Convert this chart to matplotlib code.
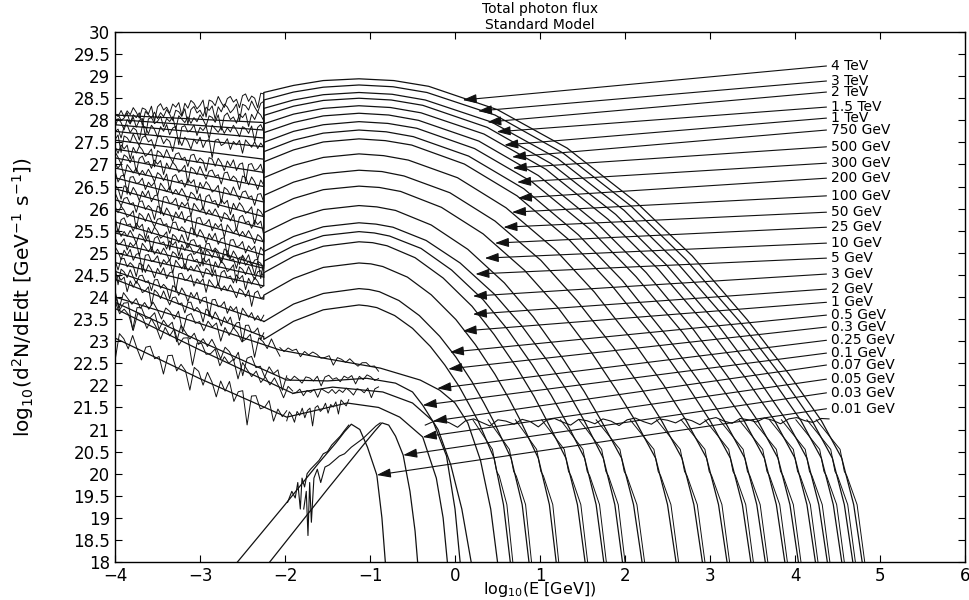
import numpy as np
import matplotlib
matplotlib.use("Agg")
import matplotlib.pyplot as plt
from matplotlib.ticker import FormatStrFormatter

# labels on the right, top to bottom, with the y of each leader line
labels = ["4 TeV", "3 TeV", "2 TeV", "1.5 TeV", "1 TeV", "750 GeV", "500 GeV",
          "300 GeV", "200 GeV", "100 GeV", "50 GeV", "25 GeV", "10 GeV", "5 GeV",
          "3 GeV", "2 GeV", "1 GeV", "0.5 GeV", "0.3 GeV", "0.25 GeV", "0.1 GeV",
          "0.07 GeV", "0.05 GeV", "0.03 GeV", "0.01 GeV"]
label_y = [29.23, 28.89, 28.64, 28.30, 28.05, 27.78, 27.40, 27.03, 26.69, 26.29,
           25.92, 25.58, 25.22, 24.88, 24.52, 24.18, 23.88, 23.59, 23.32, 23.02,
           22.73, 22.46, 22.14, 21.83, 21.47]
tip_x = [0.09, 0.27, 0.38, 0.49, 0.58, 0.67, 0.68, 0.73, 0.74, 0.67, 0.57, 0.47,
         0.35, 0.24, 0.21, 0.21, 0.09, -0.06, -0.08, -0.21, -0.38, -0.26, -0.38,
         -0.61, -0.92]
tip_y = [28.46, 28.21, 27.96, 27.74, 27.44, 27.17, 26.92, 26.60, 26.24, 25.92,
         25.58, 25.22, 24.88, 24.52, 24.02, 23.61, 23.23, 22.75, 22.37, 21.93,
         21.55, 21.19, 20.83, 20.42, 19.97]

# fitted arcs, 4 TeV ... 0.3 GeV
rise_x = [-4, -2.25, -2.25, -1.9, -1.55, -1.13]
arc_rise_y = [
    [28.12, 27.95, 28.63, 28.79, 28.90, 28.94],
    [28.02, 27.78, 28.46, 28.64, 28.75, 28.80],
    [27.90, 27.60, 28.27, 28.46, 28.58, 28.63],
    [27.75, 27.40, 28.11, 28.32, 28.45, 28.50],
    [27.55, 27.12, 27.92, 28.14, 28.27, 28.33],
    [27.35, 26.82, 27.72, 27.95, 28.10, 28.16],
    [27.15, 26.50, 27.50, 27.75, 27.90, 27.97],
    [26.92, 26.15, 27.29, 27.55, 27.71, 27.78],
    [26.70, 25.82, 27.06, 27.33, 27.51, 27.58],
    [26.45, 25.55, 26.70, 26.98, 27.16, 27.24],
    [26.20, 25.25, 26.30, 26.60, 26.79, 26.87],
    [25.95, 24.95, 25.91, 26.23, 26.43, 26.51],
    [25.70, 24.70, 25.45, 25.78, 25.98, 26.07],
    [25.45, 24.65, 25.03, 25.37, 25.59, 25.68],
    [25.22, 24.45, 24.81, 25.16, 25.39, 25.48],
    [25.00, 24.25, 24.55, 24.92, 25.15, 25.25],
    [24.78, 23.95, 24.04, 24.42, 24.67, 24.77],
    [24.58, 23.45, 23.44, 23.84, 24.08, 24.19],
    [24.40, 23.10, 23.04, 23.45, 23.71, 23.82],
]
arc_desc_x = [
    [-0.72, -0.31, 0.50, 1.32, 2.13, 2.79, 3.44, 3.93, 4.31],
    [-0.73, -0.33, 0.47, 1.27, 2.07, 2.71, 3.35, 3.83, 4.20],
    [-0.74, -0.35, 0.43, 1.21, 1.99, 2.61, 3.24, 3.71, 4.07],
    [-0.75, -0.38, 0.38, 1.13, 1.89, 2.49, 3.10, 3.55, 3.90],
    [-0.76, -0.40, 0.34, 1.07, 1.80, 2.39, 2.98, 3.42, 3.76],
    [-0.78, -0.43, 0.28, 0.98, 1.68, 2.25, 2.81, 3.23, 3.56],
    [-0.79, -0.45, 0.23, 0.91, 1.59, 2.13, 2.68, 3.08, 3.40],
    [-0.81, -0.49, 0.16, 0.81, 1.45, 1.97, 2.48, 2.87, 3.17],
    [-0.82, -0.51, 0.11, 0.73, 1.35, 1.84, 2.34, 2.71, 3.00],
    [-0.84, -0.55, 0.03, 0.60, 1.18, 1.64, 2.10, 2.45, 2.72],
    [-0.86, -0.60, -0.06, 0.47, 1.01, 1.43, 1.86, 2.18, 2.43],
    [-0.89, -0.64, -0.16, 0.33, 0.82, 1.21, 1.60, 1.89, 2.12],
    [-0.92, -0.70, -0.28, 0.15, 0.58, 0.92, 1.26, 1.52, 1.72],
    [-0.93, -0.73, -0.34, 0.06, 0.46, 0.78, 1.10, 1.34, 1.52],
    [-0.95, -0.77, -0.40, -0.04, 0.33, 0.62, 0.91, 1.13, 1.30],
    [-0.97, -0.80, -0.47, -0.14, 0.20, 0.46, 0.73, 0.93, 1.08],
    [-0.99, -0.85, -0.56, -0.28, 0.01, 0.24, 0.47, 0.64, 0.77],
    [-1.01, -0.89, -0.66, -0.42, -0.18, 0.01, 0.20, 0.34, 0.45],
    [-1.03, -0.92, -0.71, -0.50, -0.29, -0.12, 0.05, 0.17, 0.27],
]
arc_desc_y = [
    [28.90, 28.77, 28.24, 27.37, 26.15, 24.93, 23.48, 22.25, 21.20],
    [28.76, 28.63, 28.12, 27.26, 26.06, 24.86, 23.44, 22.23, 21.20],
    [28.59, 28.46, 27.96, 27.13, 25.96, 24.78, 23.39, 22.20, 21.20],
    [28.46, 28.34, 27.84, 27.02, 25.87, 24.72, 23.35, 22.19, 21.20],
    [28.29, 28.17, 27.69, 26.89, 25.76, 24.63, 23.30, 22.16, 21.20],
    [28.12, 28.00, 27.53, 26.75, 25.65, 24.55, 23.25, 22.14, 21.20],
    [27.93, 27.82, 27.36, 26.60, 25.53, 24.46, 23.19, 22.11, 21.20],
    [27.74, 27.63, 27.19, 26.45, 25.41, 24.37, 23.14, 22.09, 21.20],
    [27.54, 27.44, 27.01, 26.29, 25.28, 24.27, 23.08, 22.06, 21.20],
    [27.20, 27.10, 26.70, 26.02, 25.07, 24.11, 22.98, 22.02, 21.20],
    [26.84, 26.74, 26.36, 25.72, 24.83, 23.93, 22.87, 21.97, 21.20],
    [26.48, 26.39, 26.03, 25.43, 24.60, 23.76, 22.76, 21.92, 21.20],
    [26.04, 25.96, 25.63, 25.08, 24.32, 23.55, 22.63, 21.86, 21.20],
    [25.65, 25.58, 25.28, 24.77, 24.07, 23.36, 22.52, 21.81, 21.20],
    [25.45, 25.38, 25.10, 24.61, 23.94, 23.26, 22.46, 21.78, 21.20],
    [25.23, 25.16, 24.89, 24.43, 23.79, 23.15, 22.39, 21.75, 21.20],
    [24.75, 24.69, 24.45, 24.05, 23.49, 22.92, 22.25, 21.68, 21.20],
    [24.17, 24.12, 23.92, 23.58, 23.11, 22.64, 22.08, 21.60, 21.20],
    [23.80, 23.76, 23.58, 23.29, 22.88, 22.46, 21.97, 21.55, 21.20],
]
drop_y = [20.35, 19.3, 18.0]
arc_drop_x = [
    [4.55, 4.69, 4.79], [4.44, 4.58, 4.68], [4.31, 4.45, 4.55], [4.14, 4.28, 4.38],
    [4.00, 4.14, 4.24], [3.80, 3.94, 4.04], [3.64, 3.78, 3.88], [3.41, 3.55, 3.65],
    [3.24, 3.38, 3.48], [2.96, 3.10, 3.20], [2.67, 2.81, 2.91], [2.36, 2.50, 2.60],
    [1.96, 2.10, 2.20], [1.745, 1.88, 1.97], [1.525, 1.66, 1.75], [1.305, 1.44, 1.53],
    [0.98, 1.11, 1.19], [0.66, 0.79, 0.87], [0.46, 0.57, 0.65],
]
# the simulated curve next to each fitted drop: a notch part way down
mc_drop_y = [21.22, 20.55, 20.05, 19.95, 19.3, 18.0]

# noisy MC segments on the left for the arcs (start / end level)
mc_y0 = [28.15, 28.05, 27.95, 27.80, 27.60, 27.40, 27.20, 26.97, 26.75, 26.50,
         26.25, 26.00, 25.75, 25.50, 25.27, 25.05, 24.83, 24.62, 24.45]
mc_y1 = [28.55, 28.35, 28.10, 27.80, 27.45, 26.90, 26.58, 26.23, 25.90, 25.62,
         25.32, 25.02, 24.75, 24.70, 24.50, 24.30, 24.00, 23.50, 23.15]
jitter = [0.04, -0.08, 0.11, -0.03, -0.21, 0.07, 0.02, -0.12, 0.09, -0.35, 0.05,
          0.13, -0.06, 0.01, -0.17, 0.08, -0.02, 0.10, -0.28, 0.06, -0.09, 0.12,
          0.03, -0.14, -0.05, 0.09, -0.40, 0.07, 0.02, -0.11, 0.14, -0.04, -0.19,
          0.05, 0.10, -0.07, 0.00, -0.25, 0.08, 0.12, -0.10, 0.04, -0.03, -0.31,
          0.09, 0.06, -0.13, 0.11, -0.01, -0.22, 0.07, -0.06, 0.13, -0.16, 0.03,
          0.08, -0.44, 0.06, 0.10, -0.08, -0.02, 0.12, -0.18, 0.05, -0.04, 0.09,
          -0.27, 0.11, 0.01, -0.09, 0.07, -0.12]

# low energy curves: 0.25, 0.1, 0.07, 0.05 GeV
low_x = [
    [-4, -3.0, -2.06, -1.5, -0.88, -0.41, -0.18, 0.0, 0.15, 0.3, 0.42, 0.5],
    [-4, -3.0, -1.98, -1.5, -1.04, -0.7, -0.5, -0.38, -0.2, -0.05, 0.08, 0.19],
    [-4, -3.0, -1.91, -1.44, -0.85, -0.5, -0.26, -0.1, 0.0, 0.06],
    [-4, -3.0, -1.98, -1.6, -1.27, -0.9, -0.65, -0.38, -0.22, -0.14, -0.09],
]
low_y = [
    [24.0, 23.4, 22.8, 22.6, 22.39, 22.12, 21.89, 21.6, 21.15, 20.3, 19.2, 18.0],
    [23.88, 23.0, 22.12, 22.1, 22.16, 22.05, 21.85, 21.55, 21.0, 20.2, 19.2, 18.0],
    [23.74, 22.8, 21.82, 21.96, 21.85, 21.6, 21.19, 20.4, 19.2, 18.0],
    [23.07, 22.15, 21.28, 21.45, 21.6, 21.5, 21.28, 20.83, 19.9, 19.0, 18.0],
]
# noisy stretches along them: (x0, y0, x1, y1, scale)
low_mc = [(-4, 24.05, -2.06, 22.85, 1.0), (-4, 23.92, -1.98, 22.15, 1.1),
          (-4, 23.78, -1.91, 21.85, 1.1), (-4, 23.12, -1.98, 21.3, 1.4),
          (-2.06, 22.85, -0.9, 22.42, 0.4), (-1.98, 22.15, -0.9, 22.18, 0.5),
          (-1.91, 21.85, -0.9, 21.9, 0.5), (-1.98, 21.3, -1.25, 21.62, 0.8)]

# 0.03 and 0.01 GeV
x003 = [-2.18, -1.5, -1.1, -0.95, -0.86, -0.78, -0.7, -0.61, -0.53, -0.47, -0.44]
y003 = [18.0, 19.65, 20.6, 20.95, 21.15, 21.1, 20.85, 20.42, 19.6, 18.7, 18.0]
x001 = [-2.56, -2.0, -1.6, -1.4, -1.3, -1.22, -1.12, -1.03, -0.92, -0.86, -0.82]
y001 = [18.0, 19.3, 20.25, 20.7, 20.95, 21.12, 21.0, 20.6, 19.97, 19.0, 18.0]
mc001_x = [-1.97, -1.92, -1.88, -1.85, -1.82, -1.8, -1.77, -1.74, -1.7, -1.65,
           -1.6, -1.55, -1.5, -1.45, -1.4, -1.35, -1.3, -1.25]
mc001_y = [19.35, 19.6, 19.45, 19.8, 19.2, 19.9, 19.7, 20.0, 20.1, 20.2, 20.3,
           20.45, 20.5, 20.65, 20.75, 20.85, 20.98, 21.1]
mc003_x = [-1.78, -1.75, -1.73, -1.71, -1.69, -1.66, -1.62, -1.58, -1.53, -1.48,
           -1.42, -1.36, -1.3, -1.22, -1.15, -1.08, -1.0, -0.93, -0.88]
mc003_y = [19.2, 19.6, 18.6, 19.8, 18.9, 19.9, 20.1, 19.8, 20.15, 20.2, 20.3,
           20.4, 20.45, 20.6, 20.7, 20.8, 20.95, 21.08, 21.15]

# flat floor around 21.2
plateau_y = [21.10, 21.18, 21.22, 21.15, 21.05, 21.20, 21.24, 21.16, 21.08, 21.22,
             21.19, 21.12, 21.23, 21.18, 21.06, 21.21, 21.25, 21.17, 21.10, 21.23,
             21.20, 21.13, 21.24, 21.19, 21.09, 21.22, 21.26, 21.18, 21.12, 21.24,
             21.21, 21.15, 21.25, 21.20, 21.11, 21.23, 21.27, 21.19, 21.14, 21.25,
             21.22, 21.17, 21.26, 21.21, 21.13, 21.24, 21.27, 21.20, 21.16, 21.25, 21.24]

ink = "#111111"
lw = 0.9

plt.rcParams["mathtext.default"] = "regular"
fig = plt.figure(figsize=(9.69, 6.0), dpi=100)
ax = fig.add_axes([0.1187, 0.0633, 0.8772, 0.8834])

jit = np.array(jitter)
for i in range(19):
    xs = rise_x + arc_desc_x[i] + arc_drop_x[i]
    ys = arc_rise_y[i] + arc_desc_y[i] + drop_y
    ax.plot(xs, ys, color=ink, lw=lw)
    gx = np.linspace(-4, -2.25, 50)
    base = np.linspace(mc_y0[i], mc_y1[i], 50)
    ax.plot(gx, base + 0.8 * np.roll(jit, 11 * i + 4)[:50], color=ink, lw=0.7)
    d = arc_drop_x[i]
    xc = arc_desc_x[i][-1]
    mx = [xc - 0.06, d[0] - 0.02, d[0] + 0.03, d[0] + 0.06, d[1] + 0.04, d[2] + 0.03]
    ax.plot(mx, mc_drop_y, color=ink, lw=0.7)

for i, (x0, y0, x1, y1, s) in enumerate(low_mc):
    n = 40 if i < 4 else 25
    gx = np.linspace(x0, x1, n)
    base = np.linspace(y0, y1, n)
    ax.plot(gx, base + s * np.roll(jit, 13 * i + 7)[:n], color=ink, lw=0.7)
for i in range(4):
    ax.plot(low_x[i], low_y[i], color=ink, lw=lw)

ax.plot(x003, y003, color=ink, lw=lw)
ax.plot(x001, y001, color=ink, lw=lw)
ax.plot(mc003_x, mc003_y, color=ink, lw=0.8)
ax.plot(mc001_x, mc001_y, color=ink, lw=0.8)
ax.plot(np.linspace(-0.35, 4.4, len(plateau_y)), plateau_y, color=ink, lw=0.8)

for lab, ly, tx, ty in zip(labels, label_y, tip_x, tip_y):
    ax.annotate("", xy=(tx, ty), xytext=(4.37, ly),
                arrowprops=dict(arrowstyle="-|>,head_length=0.6,head_width=0.2",
                                mutation_scale=14, color=ink, lw=0.8,
                                shrinkA=0, shrinkB=0))
    ax.text(4.42, ly, lab, fontsize=10, va="center", ha="left")

ax.set_xlim(-4, 6)
ax.set_ylim(18, 30)
ax.set_xticks(range(-4, 7))
ax.set_yticks(np.arange(18, 30.01, 0.5))
ax.yaxis.set_major_formatter(FormatStrFormatter("%g"))
ax.tick_params(direction="in", top=True, right=True, length=5, labelsize=12)
for s in ax.spines.values():
    s.set_linewidth(1.0)

ax.set_title("Total photon flux\nStandard Model", fontsize=10, pad=2)
ax.set_xlabel("log$_{10}$(E [GeV])", fontsize=11.5)
ax.xaxis.set_label_coords(0.5, -0.033)
ax.set_ylabel("log$_{10}$(d$^2$N/dEdt [GeV$^{-1}$ s$^{-1}$])", fontsize=14.5)
ax.yaxis.set_label_coords(-0.093, 0.5)

fig.savefig("out.png", dpi=100)
